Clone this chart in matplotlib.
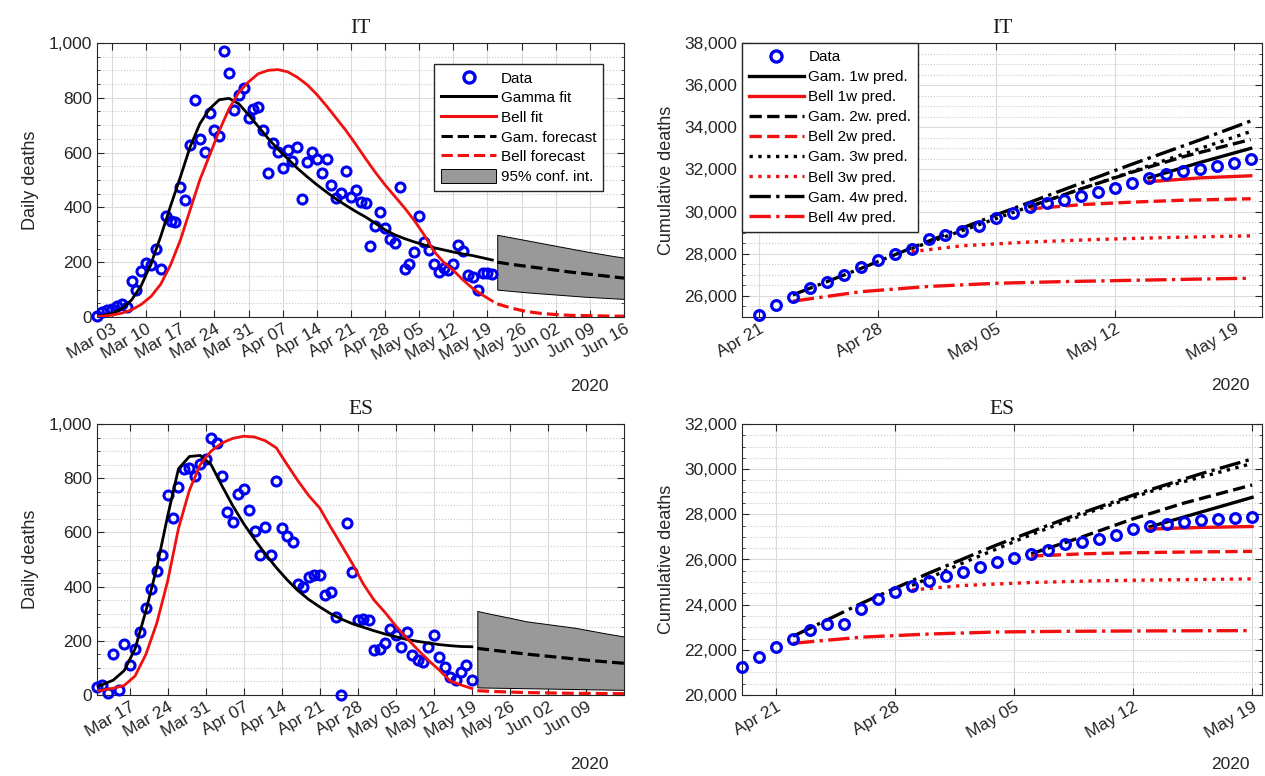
import numpy as np
import pandas as pd
import matplotlib
matplotlib.use("Agg")
import matplotlib.pyplot as plt
from matplotlib.lines import Line2D
from matplotlib.patches import Patch
from matplotlib.ticker import FuncFormatter, MultipleLocator
import matplotlib.dates as mdates

plt.rcParams['font.family'] = ['Liberation Sans', 'DejaVu Sans']

# ---------------- IT, daily deaths (from Feb 29, one value per day) ----------------
it_start = '2020-02-29'
it_daily = [5, 18, 27, 28, 41, 49, 36, 133, 97, 168, 196, 189, 250, 175, 368, 349, 345,
            475, 427, 627, 793, 651, 601, 743, 683, 662, 969, 889, 756, 812, 837,
            727, 760, 766, 681, 525, 636, 604, 542, 610, 570, 619, 431, 566, 602, 578,
            525, 575, 482, 433, 454, 534, 437, 464, 420, 415, 260, 333, 382, 323, 285,
            269, 474, 174, 195, 236, 369, 274, 243, 194, 165, 179, 172, 195, 262, 242,
            153, 145, 99, 162, 161, 156]

# fitted curves, one value every 2 days from Feb 28
it_fit_start = '2020-02-28'
it_gamma_fit = [2, 5, 13, 30, 62, 115, 195, 295, 405, 510, 620, 705, 760, 793, 798,
                778, 738, 695, 652, 613, 578, 543, 512, 483, 456, 430, 407, 385, 365,
                342, 318, 300, 286, 274, 263, 253, 245, 237, 230, 224, 216, 208]
it_bell_fit = [1, 3, 7, 14, 26, 46, 75, 120, 190, 280, 390, 500, 590, 680, 760, 820,
               858, 888, 900, 903, 895, 875, 848, 812, 770, 725, 680, 630, 578, 528,
               482, 440, 398, 352, 300, 240, 200, 170, 135, 104, 80, 58]

it_fc_dates = ['2020-05-21', '2020-05-24', '2020-05-27', '2020-05-30', '2020-06-02',
               '2020-06-05', '2020-06-08', '2020-06-11', '2020-06-14', '2020-06-16']
it_gam_fc = [200, 192, 185, 178, 171, 164, 158, 152, 146, 142]
it_bell_fc = [48, 32, 20, 13, 9, 6, 5, 4, 3, 3]
it_ci_low = [100, 95, 90, 86, 82, 78, 74, 71, 68, 66]
it_ci_high = [300, 290, 280, 270, 260, 250, 240, 231, 222, 217]

# ---------------- ES, daily deaths (from Mar 11) ----------------
es_start = '2020-03-11'
es_daily = [31, 37, 9, 153, 18, 187, 110, 168, 233, 322, 392, 459, 517, 739, 653, 766,
            833, 838, 809, 851, 870,
            949, 931, 809, 674, 637, 741, 760, 682, 606, 515, 619, 515, 790, 616, 585,
            564, 410, 398, 435, 441, 441, 368, 380, 288, 0, 634, 453, 276, 282, 276,
            165, 168, 192, 245, 223, 178, 233, 147, 129, 123, 178, 220, 141, 104, 67,
            55, 86, 110, 55]

es_fit_start = '2020-03-10'
es_gamma_fit = [25, 38, 55, 90, 170, 310, 470, 660, 835, 880, 884, 850, 772, 698, 632,
                574, 520, 470, 425, 385, 352, 325, 300, 280, 263, 250, 237, 225, 215,
                205, 198, 192, 186, 182, 179, 178]
es_bell_fit = [12, 18, 25, 35, 70, 150, 265, 420, 615, 755, 850, 900, 930, 947, 955,
               952, 938, 912, 850, 790, 735, 690, 620, 553, 485, 410, 350, 305, 255,
               210, 168, 128, 92, 52, 37, 24]

es_fc_dates = ['2020-05-20', '2020-05-23', '2020-05-26', '2020-05-29', '2020-06-01',
               '2020-06-04', '2020-06-07', '2020-06-10', '2020-06-13', '2020-06-16']
es_gam_fc = [172, 165, 158, 151, 145, 139, 133, 127, 122, 117]
es_bell_fc = [16, 13, 11, 9, 8, 7, 6, 6, 5, 5]
es_ci_low = [28, 27, 26, 25, 24, 23, 22, 21, 20, 19]
es_ci_high = [310, 297, 285, 272, 264, 256, 248, 237, 226, 216]

# ---------------- IT, cumulative deaths (from Apr 21) ----------------
it_cum_start = '2020-04-21'
it_cum = [25085, 25549, 25969, 26384, 26644, 26977, 27359, 27682, 27967, 28236,
          28710, 28884, 29079, 29315, 29684, 29958, 30201, 30395, 30560, 30739,
          30911, 31106, 31368, 31610, 31763, 31908, 32007, 32169, 32330, 32486]

it_gam1_d = ['2020-05-14', '2020-05-17', '2020-05-20']
it_gam1 = [31600, 32330, 33000]
it_bell1_d = ['2020-05-14', '2020-05-17', '2020-05-20']
it_bell1 = [31420, 31600, 31700]
it_gam2_d = ['2020-05-07', '2020-05-10', '2020-05-13', '2020-05-16', '2020-05-20']
it_gam2 = [30250, 31080, 31870, 32600, 33420]
it_bell2_d = ['2020-05-07', '2020-05-10', '2020-05-13', '2020-05-16', '2020-05-20']
it_bell2 = [30130, 30330, 30450, 30540, 30610]
it_gam3_d = ['2020-04-30', '2020-05-03', '2020-05-07', '2020-05-11', '2020-05-15', '2020-05-20']
it_gam3 = [28250, 29100, 30250, 31350, 32450, 33800]
it_bell3_d = ['2020-04-30', '2020-05-03', '2020-05-07', '2020-05-11', '2020-05-15', '2020-05-20']
it_bell3 = [28100, 28380, 28560, 28680, 28770, 28850]
it_gam4_d = ['2020-04-23', '2020-04-27', '2020-05-01', '2020-05-05', '2020-05-09',
             '2020-05-13', '2020-05-17', '2020-05-20']
it_gam4 = [26050, 27300, 28600, 29850, 31050, 32250, 33400, 34300]
it_bell4_d = it_gam4_d
it_bell4 = [25750, 26200, 26450, 26600, 26680, 26740, 26800, 26840]

# ---------------- ES, cumulative deaths (from Apr 19) ----------------
es_cum_start = '2020-04-19'
es_cum = [21226, 21699, 22112, 22481, 22880, 23146, 23146, 23811, 24254, 24549,
          24845, 25066, 25288, 25436, 25657, 25879, 26071, 26248, 26425, 26691,
          26765, 26913, 27105, 27356, 27474, 27578, 27651, 27755, 27799, 27843, 27902]

es_gam1_d = ['2020-05-13', '2020-05-16', '2020-05-19']
es_gam1 = [27450, 28100, 28750]
es_bell1_d = ['2020-05-13', '2020-05-16', '2020-05-19']
es_bell1 = [27350, 27420, 27460]
es_gam2_d = ['2020-05-06', '2020-05-09', '2020-05-12', '2020-05-15', '2020-05-19']
es_gam2 = [26250, 27000, 27800, 28500, 29300]
es_bell2_d = ['2020-05-06', '2020-05-09', '2020-05-12', '2020-05-15', '2020-05-19']
es_bell2 = [26150, 26250, 26300, 26330, 26360]
es_gam3_d = ['2020-04-29', '2020-05-02', '2020-05-06', '2020-05-10', '2020-05-14', '2020-05-19']
es_gam3 = [24850, 25850, 27100, 28250, 29250, 30250]
es_bell3_d = ['2020-04-29', '2020-05-02', '2020-05-06', '2020-05-10', '2020-05-14', '2020-05-19']
es_bell3 = [24650, 24850, 24980, 25060, 25100, 25140]
es_gam4_d = ['2020-04-22', '2020-04-26', '2020-04-30', '2020-05-04', '2020-05-08',
             '2020-05-12', '2020-05-16', '2020-05-19']
es_gam4 = [22600, 24050, 25400, 26650, 27800, 28850, 29800, 30450]
es_bell4_d = es_gam4_d
es_bell4 = [22290, 22560, 22700, 22790, 22820, 22835, 22845, 22850]

BLUE = '#0000f0'
RED = '#f01010'
GREY = '0.6'
TXT = '0.15'


def daily_dates(start, n, step=1):
    return pd.date_range(start, periods=n, freq=f'{step}D')


def style(ax, xticks, minor_y, title, ylabel):
    ax.set_xticks(pd.to_datetime(xticks))
    ax.xaxis.set_major_formatter(mdates.DateFormatter('%b %d'))
    ax.yaxis.set_major_formatter(FuncFormatter(lambda v, p: f'{v:,.0f}'))
    ax.yaxis.set_minor_locator(MultipleLocator(minor_y))
    ax.grid(True, which='major', color='0.86', lw=0.8, ls='-')
    ax.grid(True, which='minor', axis='y', color='0.78', lw=0.8, ls=':')
    ax.set_axisbelow(True)
    ax.tick_params(which='major', direction='in', top=True, right=True, length=5,
                   width=0.8, color=TXT, labelsize=12.5, labelcolor=TXT)
    ax.tick_params(which='minor', direction='in', left=True, right=True, length=2.5,
                   width=0.6, color=TXT)
    for s in ax.spines.values():
        s.set_color(TXT)
        s.set_linewidth(0.8)
    plt.setp(ax.get_xticklabels(), rotation=30, ha='right', va='top',
             rotation_mode='anchor')
    ax.set_title(title, family=['Liberation Serif', 'DejaVu Serif'], fontsize=15.5,
                 pad=7, color='0.1')
    ax.set_ylabel(ylabel, fontsize=13, color=TXT, labelpad=7)


def daily_panel(ax, start, data, fit_start, gam, bell, fc_d, gam_fc, bell_fc, lo, hi):
    d = daily_dates(start, len(data))
    fd = daily_dates(fit_start, len(gam), 2)
    fcd = pd.to_datetime(fc_d)
    ax.fill_between(fcd, lo, hi, facecolor=GREY, edgecolor='k', lw=0.7, zorder=2)
    ax.plot(d, data, 'o', mfc='none', mec=BLUE, ms=6.5, mew=2.2, clip_on=False, zorder=3)
    ax.plot(fd, gam, color='k', lw=2.0, zorder=4)
    ax.plot(fd, bell, color=RED, lw=2.0, zorder=4)
    ax.plot(fcd, gam_fc, color='k', lw=2.3, ls='--', zorder=4)
    ax.plot(fcd, bell_fc, color=RED, lw=2.3, ls='--', zorder=4)
    ax.set_ylim(0, 1000)
    ax.set_yticks(np.arange(0, 1001, 200))


def cum_panel(ax, start, data, preds):
    d = daily_dates(start, len(data))
    handles = [Line2D([], [], ls='none', marker='o', mfc='none', mec=BLUE, ms=8, mew=2.4)]
    for dates, vals, col, ls in preds:
        h, = ax.plot(pd.to_datetime(dates), vals, color=col, ls=ls, lw=2.4, zorder=3)
        handles.append(h)
    ax.plot(d, data, 'o', mfc='none', mec=BLUE, ms=7, mew=2.3, clip_on=False, zorder=4)
    return handles


fig = plt.figure(figsize=(12.65, 7.76), dpi=100)
W, H = 1265, 776


def box(x0, x1, y0, y1):
    return [x0 / W, 1 - y1 / H, (x1 - x0) / W, (y1 - y0) / H]


ax1 = fig.add_axes(box(97, 624, 43, 317))
ax2 = fig.add_axes(box(742, 1262, 43, 317))
ax3 = fig.add_axes(box(97, 624, 424, 695))
ax4 = fig.add_axes(box(742, 1262, 424, 695))

# IT daily
daily_panel(ax1, it_start, it_daily, it_fit_start, it_gamma_fit, it_bell_fit,
            it_fc_dates, it_gam_fc, it_bell_fc, it_ci_low, it_ci_high)
ax1.set_xlim(pd.Timestamp('2020-02-28 22:00'), pd.Timestamp('2020-06-16'))
style(ax1, pd.date_range('2020-03-03', '2020-06-16', freq='7D'), 50, 'IT', 'Daily deaths')
leg_h = [Line2D([], [], ls='none', marker='o', mfc='none', mec=BLUE, ms=8, mew=2.4),
         Line2D([], [], color='k', lw=2.2),
         Line2D([], [], color=RED, lw=2.2),
         Line2D([], [], color='k', lw=2.2, ls='--'),
         Line2D([], [], color=RED, lw=2.2, ls='--'),
         Patch(facecolor=GREY, edgecolor='k', lw=0.7)]
leg_l = ['Data', 'Gamma fit', 'Bell fit', 'Gam. forecast', 'Bell forecast', '95% conf. int.']
ax1.legend(leg_h, leg_l, loc='upper right', bbox_to_anchor=(0.975, 0.952), fontsize=11,
           fancybox=False, framealpha=1, edgecolor=TXT, handlelength=3.6,
           handleheight=1.0, labelspacing=0.3, handletextpad=0.3, borderpad=0.45)

# ES daily
daily_panel(ax3, es_start, es_daily, es_fit_start, es_gamma_fit, es_bell_fit,
            es_fc_dates, es_gam_fc, es_bell_fc, es_ci_low, es_ci_high)
ax3.set_xlim(pd.Timestamp('2020-03-11'), pd.Timestamp('2020-06-16'))
style(ax3, pd.date_range('2020-03-17', '2020-06-09', freq='7D'), 50, 'ES', 'Daily deaths')

# IT cumulative
it_preds = [(it_gam1_d, it_gam1, 'k', '-'), (it_bell1_d, it_bell1, RED, '-'),
            (it_gam2_d, it_gam2, 'k', '--'), (it_bell2_d, it_bell2, RED, '--'),
            (it_gam3_d, it_gam3, 'k', ':'), (it_bell3_d, it_bell3, RED, ':'),
            (it_gam4_d, it_gam4, 'k', '-.'), (it_bell4_d, it_bell4, RED, '-.')]
hs = cum_panel(ax2, it_cum_start, it_cum, it_preds)
ax2.set_xlim(pd.Timestamp('2020-04-20'), pd.Timestamp('2020-05-20 16:00'))
ax2.set_ylim(25000, 38000)
ax2.set_yticks(np.arange(26000, 38001, 2000))
style(ax2, pd.date_range('2020-04-21', '2020-05-19', freq='7D'), 500, 'IT', 'Cumulative deaths')
cum_labels = ['Data', 'Gam. 1w pred.', 'Bell 1w pred.', 'Gam. 2w. pred.', 'Bell 2w pred.',
              'Gam. 3w pred.', 'Bell 3w pred.', 'Gam. 4w pred.', 'Bell 4w pred.']
ax2.legend(hs, cum_labels, loc='upper left', bbox_to_anchor=(0, 1), borderaxespad=0,
           fontsize=11, fancybox=False, framealpha=1, edgecolor=TXT, handlelength=3.6,
           labelspacing=0.4, handletextpad=0.3, borderpad=0.45)

# ES cumulative
es_preds = [(es_gam1_d, es_gam1, 'k', '-'), (es_bell1_d, es_bell1, RED, '-'),
            (es_gam2_d, es_gam2, 'k', '--'), (es_bell2_d, es_bell2, RED, '--'),
            (es_gam3_d, es_gam3, 'k', ':'), (es_bell3_d, es_bell3, RED, ':'),
            (es_gam4_d, es_gam4, 'k', '-.'), (es_bell4_d, es_bell4, RED, '-.')]
cum_panel(ax4, es_cum_start, es_cum, es_preds)
ax4.set_xlim(pd.Timestamp('2020-04-19'), pd.Timestamp('2020-05-19 14:00'))
ax4.set_ylim(20000, 32000)
ax4.set_yticks(np.arange(20000, 32001, 2000))
style(ax4, pd.date_range('2020-04-21', '2020-05-19', freq='7D'), 500, 'ES', 'Cumulative deaths')

# year labels under the date axes
for ax, xr, yr in [(ax1, 0.97, -0.255), (ax3, 0.97, -0.258),
                   (ax2, 0.977, -0.25), (ax4, 0.977, -0.255)]:
    ax.text(xr, yr, '2020', transform=ax.transAxes, ha='right', va='center',
            fontsize=12.5, color=TXT)

fig.savefig('out.png', dpi=100, facecolor='white')
